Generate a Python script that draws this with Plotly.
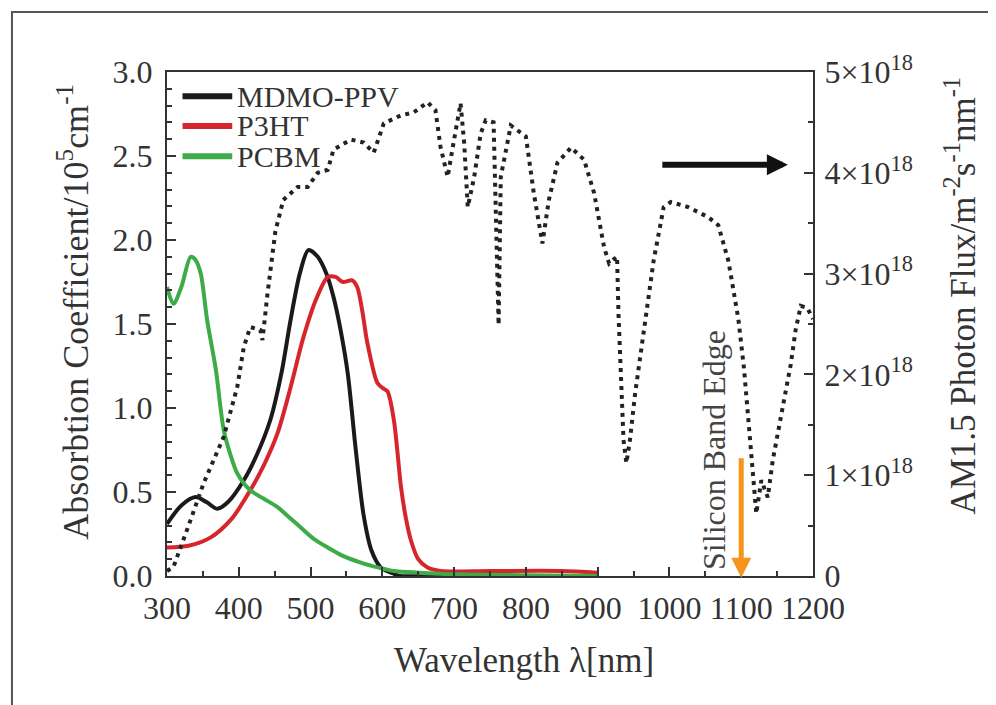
import plotly.graph_objects as go

# ---------------- data ----------------
mdmo_wl = [300, 320, 340, 355, 370, 385, 407, 425, 444, 460, 472, 485, 497, 510, 522, 532, 542, 552, 563, 574, 585, 598, 612, 625, 650, 700, 800, 900]
mdmo_abs = [0.31, 0.42, 0.47, 0.44, 0.40, 0.44, 0.57, 0.72, 0.93, 1.22, 1.52, 1.80, 1.94, 1.90, 1.80, 1.66, 1.46, 1.20, 0.75, 0.36, 0.15, 0.05, 0.02, 0.0, 0.0, 0.0, 0.0, 0.0]

p3ht_wl = [300, 330, 361, 390, 416, 435, 454, 472, 490, 508, 524, 535, 545, 558, 565, 572, 579, 593, 600, 607, 616, 626, 633, 640, 650, 663, 681, 750, 850, 900]
p3ht_abs = [0.17, 0.18, 0.23, 0.34, 0.51, 0.66, 0.85, 1.12, 1.42, 1.65, 1.78, 1.78, 1.75, 1.76, 1.72, 1.58, 1.39, 1.15, 1.12, 1.10, 0.93, 0.53, 0.34, 0.21, 0.10, 0.05, 0.03, 0.03, 0.03, 0.02]

pcbm_wl = [300, 309, 320, 333, 340, 347, 356, 368, 379, 390, 398, 416, 435, 454, 470, 486, 505, 524, 545, 570, 595, 616, 650, 700, 800, 900]
pcbm_abs = [1.72, 1.62, 1.72, 1.90, 1.88, 1.80, 1.52, 1.23, 0.87, 0.70, 0.61, 0.51, 0.46, 0.41, 0.35, 0.29, 0.22, 0.17, 0.12, 0.08, 0.05, 0.03, 0.02, 0.01, 0.005, 0.0]

am15_wl = [300, 309, 328, 351, 379, 398, 407, 416, 430, 433, 440, 451, 462, 482, 496, 510, 524, 532, 556, 574, 588, 602, 626, 644, 663, 674, 681, 691, 700, 709, 714, 719, 728, 737, 744, 755, 762, 765, 779, 800, 811, 823, 832, 844, 863, 881, 895, 909, 916, 927, 929, 933, 936, 940, 945, 952, 960, 978, 992, 1002, 1026, 1054, 1068, 1082, 1090, 1096, 1104, 1114, 1121, 1128, 1137, 1144, 1155, 1169, 1176, 1183, 1192, 1200]
am15_flux = [0.05, 0.09, 0.46, 0.92, 1.38, 1.88, 2.27, 2.47, 2.44, 2.34, 2.80, 3.42, 3.73, 3.86, 3.86, 4.00, 4.03, 4.23, 4.33, 4.30, 4.20, 4.49, 4.57, 4.60, 4.70, 4.62, 4.26, 3.96, 4.33, 4.69, 4.30, 3.66, 3.96, 4.39, 4.52, 4.50, 2.49, 3.96, 4.47, 4.36, 3.80, 3.30, 3.73, 4.10, 4.25, 4.13, 3.80, 3.26, 3.10, 3.17, 2.60, 1.90, 1.35, 1.12, 1.35, 1.80, 2.21, 3.13, 3.66, 3.71, 3.66, 3.56, 3.48, 3.13, 2.80, 2.55, 2.05, 1.25, 0.62, 0.95, 0.78, 1.15, 1.58, 2.10, 2.45, 2.68, 2.66, 2.55]

series_names = ["MDMO-PPV", "P3HT", "PCBM"]
series_colors = ["#1a1a1a", "#d7262b", "#3dab48"]

flux_tickvals = [0, 1, 2, 3, 4, 5]
flux_ticktext = ["0", "1×10<sup>18</sup>", "2×10<sup>18</sup>", "3×10<sup>18</sup>", "4×10<sup>18</sup>", "5×10<sup>18</sup>"]

silicon_edge_nm = 1100
flux_arrow = dict(x_start=988, x_end=1165, y=4.08)

# ---------------- figure ----------------
FONT = "Liberation Serif"
TXT = "#333333"

fig = go.Figure()

fig.add_trace(go.Scatter(x=am15_wl, y=am15_flux, yaxis="y2", mode="lines",
                         line=dict(color="#222222", width=4, dash="4px,5px"),
                         showlegend=False, hoverinfo="skip"))
for wl, ab, nm, col in zip([mdmo_wl, p3ht_wl, pcbm_wl], [mdmo_abs, p3ht_abs, pcbm_abs],
                           series_names, series_colors):
    fig.add_trace(go.Scatter(x=wl, y=ab, mode="lines", name=nm, showlegend=False,
                             line=dict(color=col, width=4, shape="spline", smoothing=0.8)))

axis_common = dict(showline=True, linecolor="#333333", linewidth=2, showgrid=False,
                   zeroline=False, ticks="inside", tickcolor="#333333", tickwidth=2,
                   ticklen=9, tickfont=dict(family=FONT, size=32, color=TXT))

fig.update_layout(
    width=996, height=705,
    margin=dict(l=159, r=191, t=64, b=137),
    paper_bgcolor="white", plot_bgcolor="white",
    font=dict(family=FONT, color=TXT),
    xaxis=dict(range=[300, 1200], tick0=300, dtick=100, mirror=True,
               ticklabelstandoff=3,
               minor=dict(ticks="inside", dtick=50, ticklen=5, tickwidth=2, tickcolor="#333333"),
               **axis_common),
    yaxis=dict(range=[0, 3.0], dtick=0.5, tickformat=".1f", ticklabelstandoff=6,
               minor=dict(ticks="inside", dtick=0.1, ticklen=5, tickwidth=2, tickcolor="#333333"),
               **axis_common),
    yaxis2=dict(range=[0, 5.0], overlaying="y", side="right", tickvals=flux_tickvals,
                ticktext=flux_ticktext, ticklabelstandoff=3,
                minor=dict(ticks="inside", dtick=0.5, ticklen=5, tickwidth=2, tickcolor="#333333"),
                **axis_common),
    showlegend=False,
)

# outer frame
fig.add_shape(type="rect", xref="paper", yref="paper", x0=-0.24, x1=1.29, y0=-0.28, y1=1.119,
              line=dict(color="#555555", width=2), layer="below")

# legend (manual, tight spacing as in the reference)
leg_x0, leg_x1, leg_tx = 0.024, 0.101, 0.106
leg_y = [0.952, 0.893, 0.833]
for nm, col, yy in zip(series_names, series_colors, leg_y):
    fig.add_shape(type="line", xref="paper", yref="paper", x0=leg_x0, x1=leg_x1, y0=yy, y1=yy,
                  line=dict(color=col, width=6))
    fig.add_annotation(text=nm, xref="paper", yref="paper", x=leg_tx, y=yy, xanchor="left",
                       yanchor="middle", showarrow=False, font=dict(size=30, color=TXT))

annotations = [
    dict(text="Absorbtion Coefficient/10<sup>5</sup>cm<sup>-1</sup>", xref="paper", yref="paper",
         x=-0.145, y=0.525, xanchor="center", yanchor="middle", textangle=-90, showarrow=False,
         font=dict(size=36)),
    dict(text="AM1.5 Photon Flux/m<sup>-2</sup>s<sup>-1</sup>nm<sup>-1</sup>", xref="paper", yref="paper",
         x=1.228, y=0.557, xanchor="center", yanchor="middle", textangle=-90, showarrow=False,
         font=dict(size=35)),
    dict(text="Wavelength λ[nm]", xref="paper", yref="paper",
         x=0.553, y=-0.167, xanchor="center", yanchor="middle", showarrow=False, font=dict(size=35)),
    dict(text="Silicon Band Edge", xref="x", yref="y", x=1062, y=0.75, textangle=-90,
         xanchor="center", yanchor="middle", showarrow=False, font=dict(size=32, color="#444444")),
    dict(text="", xref="x", yref="y", x=silicon_edge_nm, y=-0.01, axref="x", ayref="y",
         ax=silicon_edge_nm, ay=0.71, showarrow=True, arrowhead=2, arrowsize=0.8,
         arrowwidth=5, arrowcolor="#f7941d"),
    dict(text="", xref="x", yref="y2", x=flux_arrow["x_end"], y=flux_arrow["y"], axref="x", ayref="y2",
         ax=flux_arrow["x_start"], ay=flux_arrow["y"], showarrow=True, arrowhead=2, arrowsize=0.7,
         arrowwidth=6, arrowcolor="#111111"),
]
for a in annotations:
    fig.add_annotation(**a)

fig.write_html("out.html")
